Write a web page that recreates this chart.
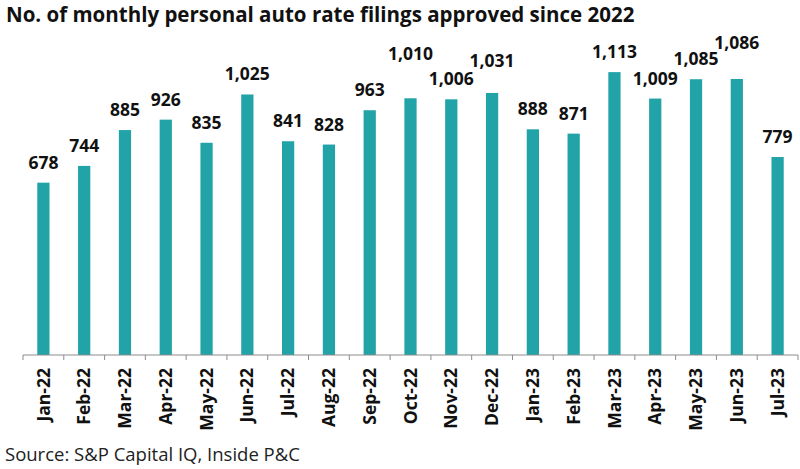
<!DOCTYPE html>
<html>
<head>
<meta charset="utf-8">
<script src="https://cdn.jsdelivr.net/npm/d3@7"></script>
<style>
  body { margin: 0; background: #fff; }
  text { font-family: "Open Sans", sans-serif; }
</style>
</head>
<body>
<div id="vis"></div>
<script>
// data
const months = [
  "Jan-22", "Feb-22", "Mar-22", "Apr-22", "May-22", "Jun-22", "Jul-22",
  "Aug-22", "Sep-22", "Oct-22", "Nov-22", "Dec-22", "Jan-23", "Feb-23",
  "Mar-23", "Apr-23", "May-23", "Jun-23", "Jul-23",
];
const filings = [
  678, 744, 885, 926, 835, 1025, 841, 828, 963, 1010, 1006, 1031, 888, 871,
  1113, 1009, 1085, 1086, 779,
];

const WIDTH = 800;
const HEIGHT = 469;
const MARGIN = { LEFT: 23, RIGHT: 2, TOP: 50, BOTTOM: 114 };
const BAR_COLOR = "#21a3a7";

// a few value labels sit higher in the original to avoid crowding
const LABEL_NUDGE = { "Oct-22": 24, "Dec-22": 12, "Jun-23": 16 };

const svg = d3
  .select("#vis")
  .append("svg")
  .attr("width", WIDTH)
  .attr("height", HEIGHT);

const x = d3
  .scaleBand()
  .domain(months)
  .range([MARGIN.LEFT, WIDTH - MARGIN.RIGHT])
  .paddingInner(0.7)
  .paddingOuter(0.35);

const y = d3
  .scaleLinear()
  .domain([0, 1200])
  .range([HEIGHT - MARGIN.BOTTOM, MARGIN.TOP]);

// title
svg
  .append("text")
  .attr("x", 6)
  .attr("y", 22)
  .attr("font-size", 20.5)
  .attr("font-weight", 700)
  .attr("fill", "#111")
  .text("No. of monthly personal auto rate filings approved since 2022");

// bars
svg
  .append("g")
  .selectAll("rect")
  .data(filings)
  .join("rect")
  .attr("x", (d, i) => x(months[i]))
  .attr("y", (d) => y(d))
  .attr("width", x.bandwidth())
  .attr("height", (d) => y(0) - y(d))
  .attr("fill", BAR_COLOR);

// value labels
svg
  .append("g")
  .selectAll("text")
  .data(filings)
  .join("text")
  .attr("x", (d, i) => x(months[i]) + x.bandwidth() / 2)
  .attr("y", (d, i) => y(d) - 14 - (LABEL_NUDGE[months[i]] || 0))
  .attr("text-anchor", "middle")
  .attr("font-size", 17.5)
  .attr("font-weight", 700)
  .attr("fill", "#111")
  .text((d) => d3.format(",")(d));

// x axis with ticks between bars
const axis = svg
  .append("g")
  .attr("transform", `translate(0, ${y(0)})`);

axis
  .append("line")
  .attr("x1", MARGIN.LEFT)
  .attr("x2", WIDTH - MARGIN.RIGHT)
  .attr("stroke", "#8c8c8c")
  .attr("stroke-width", 1);

const step = x.step();
const edges = months.map((m) => x(m) - (step - x.bandwidth()) / 2);
edges.push(edges[edges.length - 1] + step);

axis
  .selectAll(".tick")
  .data(edges)
  .join("line")
  .attr("class", "tick")
  .attr("x1", (d) => d)
  .attr("x2", (d) => d)
  .attr("y1", 0)
  .attr("y2", 5)
  .attr("stroke", "#8c8c8c");

axis
  .selectAll(".lbl")
  .data(months)
  .join("text")
  .attr("class", "lbl")
  .attr("transform", (d) => `translate(${x(d) + x.bandwidth() / 2}, 13) rotate(-90)`)
  .attr("dy", "0.35em")
  .attr("text-anchor", "end")
  .attr("font-size", 17.5)
  .attr("font-weight", 700)
  .attr("fill", "#111")
  .text((d) => d);

// source note
svg
  .append("text")
  .attr("x", 5)
  .attr("y", 461)
  .attr("font-size", 18.5)
  .attr("fill", "#222")
  .text("Source: S&P Capital IQ, Inside P&C");
</script>
</body>
</html>
